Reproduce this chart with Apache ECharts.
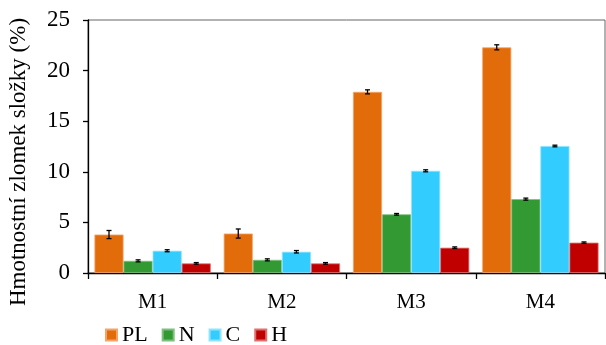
<!DOCTYPE html>
<html><head><meta charset="utf-8">
<script src="https://cdn.jsdelivr.net/npm/echarts@6/dist/echarts.min.js"></script>
<style>html,body{margin:0;padding:0;background:#fff}#c{width:606px;height:345px}</style>
</head><body><div id="c"></div>
<script>
const categories = ['M1','M2','M3','M4'];
const seriesNames = ['PL','N','C','H'];
const PL = [3.8, 3.9, 17.9, 22.3];
const N  = [1.2, 1.3, 5.8, 7.3];
const C  = [2.2, 2.1, 10.1, 12.55];
const H  = [0.95, 0.95, 2.5, 3.0];
const PL_err = [0.4, 0.45, 0.2, 0.25];
const N_err  = [0.1, 0.1, 0.08, 0.1];
const C_err  = [0.1, 0.12, 0.1, 0.08];
const H_err  = [0.08, 0.08, 0.08, 0.07];
const yTicks = [0, 5, 10, 15, 20, 25];

const values = [PL, N, C, H];
const errs = [PL_err, N_err, C_err, H_err];
const colors = ['#E36C0A', '#339933', '#33CCFF', '#C00000'];
const borders = ['#F4A46A', '#7CC07C', '#8FE3FF', '#E07070'];
const font = 'Liberation Serif';
const catGapRatio = 0.1;

const series = [];
values.forEach((v, i) => {
  series.push({
    name: seriesNames[i], type: 'bar', data: v,
    barGap: '0%', barCategoryGap: '10%',
    itemStyle: { color: colors[i], borderColor: borders[i], borderWidth: 0.8 },
    z: 2
  });
});
values.forEach((v, i) => {
  series.push({
    type: 'custom', name: seriesNames[i] + '_err', z: 5,
    data: v.map((val, j) => [j, val, errs[i][j]]),
    encode: { x: 0, y: 1 },
    tooltip: { show: false },
    renderItem: function (params, api) {
      const x = api.value(0), y = api.value(1), e = api.value(2);
      const catW = api.size([1, 0])[0];
      const barW = catW * (1 - catGapRatio) / 4;
      const off = -catW * (1 - catGapRatio) / 2 + barW * (i + 0.5);
      const top = api.coord([x, y + e]);
      const bot = api.coord([x, y - e]);
      const cx = top[0] + off;
      const hw = 2.5;
      const st = { stroke: '#000', lineWidth: 1.3 };
      return { type: 'group', children: [
        { type: 'line', shape: { x1: cx, y1: top[1], x2: cx, y2: bot[1] }, style: st },
        { type: 'line', shape: { x1: cx - hw, y1: top[1], x2: cx + hw, y2: top[1] }, style: st },
        { type: 'line', shape: { x1: cx - hw, y1: bot[1], x2: cx + hw, y2: bot[1] }, style: st }
      ]};
    }
  });
});

const chart = echarts.init(document.getElementById('c'), null, { renderer: 'canvas' });
chart.setOption({
  animation: false,
  backgroundColor: '#fff',
  grid: { left: 88, right: 1, top: 20, bottom: 72, show: true, borderColor: '#666', borderWidth: 1 },
  legend: {
    data: seriesNames, left: 105, top: 324, padding: 0, itemWidth: 11, itemHeight: 11, itemGap: 14,
    icon: 'rect', textStyle: { fontFamily: font, fontSize: 22, lineHeight: 22, color: '#000' }
  },
  xAxis: {
    type: 'category', data: categories,
    axisLine: { lineStyle: { color: '#000', width: 1.3 } },
    axisTick: { show: true, length: 6, lineStyle: { color: '#000', width: 1.3 } },
    axisLabel: { fontFamily: font, fontSize: 21, color: '#000', margin: 19 }
  },
  yAxis: {
    type: 'value', min: 0, max: 25, interval: 5,
    axisLine: { show: true, lineStyle: { color: '#000', width: 1.3 } },
    axisTick: { show: true, length: 5, lineStyle: { color: '#000', width: 1.3 } },
    splitLine: { show: false },
    axisLabel: { fontFamily: font, fontSize: 23, color: '#000', margin: 18,
      formatter: v => yTicks.includes(v) ? String(v) : '' }
  },
  graphic: [{
    type: 'text', x: 19, y: 162, rotation: Math.PI / 2,
    style: { text: 'Hmotnostní zlomek složky (%)', fontFamily: font, fontSize: 23, fill: '#000',
      textAlign: 'center', textVerticalAlign: 'middle' }
  }],
  series: series
});
</script></body></html>
